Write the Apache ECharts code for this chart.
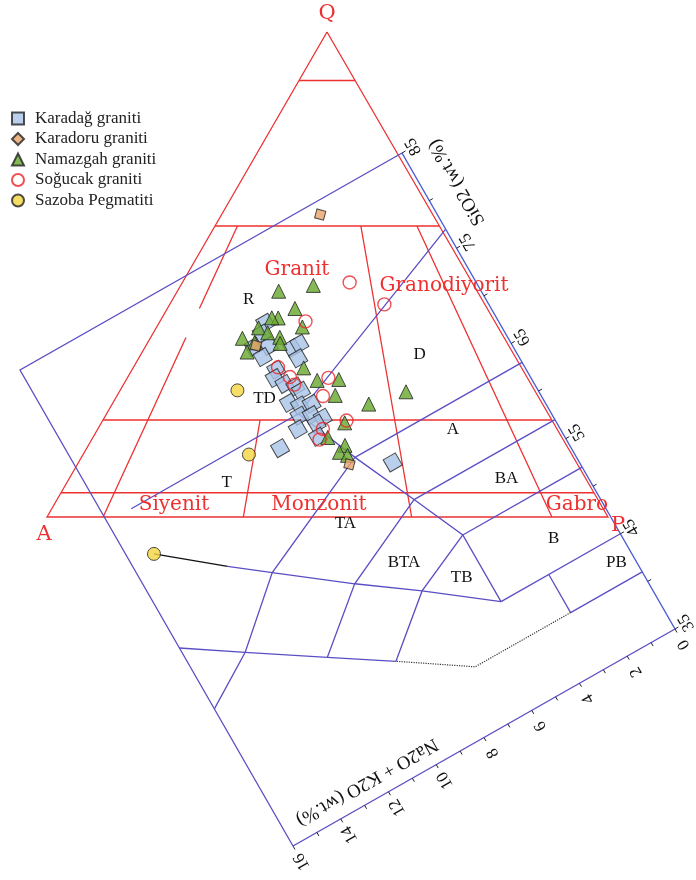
<!DOCTYPE html>
<html><head><meta charset="utf-8">
<script src="https://cdn.jsdelivr.net/npm/echarts@6/dist/echarts.min.js"></script>
<style>html,body{margin:0;padding:0;background:#fff}#c{width:696px;height:880px}</style>
</head><body><div id="c"></div>
<script>
// Whole-rock compositions: [SiO2 wt.%, Na2O+K2O wt.%]
const karadag = [[77.7,7.4],[77.0,7.7],[76.3,8.2],[75.7,7.7],[74.5,7.0],[74.5,6.7],[73.4,7.0],[75.1,8.1],[73.5,7.9],[72.9,8.1],[72.0,7.9],[71.3,7.6],[70.7,7.5],[70.3,8.1],[69.6,7.8],[69.2,7.4],[68.8,8.0],[68.3,7.6],[67.6,7.3],[67.8,8.3],[67.4,7.6],[66.3,7.8],[67.1,9.2],[60.9,5.9]];
const karadoru = [[83.8,3.7],[76.3,8.1],[62.7,7.3]];
const namazgah = [[79.6,6.4],[78.5,5.2],[77.5,6.2],[77.5,6.9],[77.8,7.1],[75.7,6.3],[77.6,7.7],[77.5,8.4],[76.8,7.5],[75.9,7.2],[76.6,8.1],[76.2,8.5],[75.4,7.3],[72.4,7.0],[70.8,6.8],[69.9,6.1],[68.8,6.5],[66.6,5.6],[65.9,4.2],[66.2,6.7],[65.8,7.5],[64.4,7.1],[64.1,7.4],[63.5,7.2]];
const sogucak = [[77.1,4.0],[73.8,3.3],[76.0,6.1],[73.6,7.8],[72.3,7.6],[71.5,7.6],[70.5,6.4],[69.3,6.9],[66.3,6.6],[66.7,7.5],[66.0,7.8]];
const sazoba = [[73.6,9.5],[68.0,10.3],[64.4,15.1]];

const seriesNames = ['Karadağ graniti','Karadoru graniti','Namazgah graniti','Soğucak graniti','Sazoba Pegmatiti'];

// TAS axes
const sio2Ticks = [35,45,55,65,75,85];
const sio2Minor = [35,40,45,50,55,60,65,70,75,80,85];
const alkTicks = [0,2,4,6,8,10,12,14,16];
const alkMinor = [0,1,2,3,4,5,6,7,8,9,10,11,12,13,14,15,16];

// TAS field boundaries [SiO2, Na2O+K2O]
const tasBoundaries = [
  [[41,0],[41,3]],
  [[41,3],[45,3]],
  [[45,0],[45,5]],
  [[45,5],[52,5],[57,5.9],[63,7],[69,8]],
  [[52,0],[52,5]],
  [[57,0],[57,5.9]],
  [[63,0],[63,7]],
  [[77,0],[69,8],[69,15]],
  [[45,5],[49.4,7.3],[53,9.3],[57.6,11.7],[60.1,13.0]],
  [[52,5],[49.4,7.3],[45,9.4]],
  [[57,5.9],[53,9.3],[48.4,11.5]],
  [[63,7],[57.6,11.7],[52.5,14],[49.4,16]],
  [[45,9.4],[48.4,11.5],[52.5,14],[55.8,16]]
];
const tasDotted = [[[41,3],[41,7],[45,9.4]]];
const tasBlack = [[[60.1,13.0],[64.4,15.1]]];
const tasLabels = [
  ['R',80.3,7.5],['TD',71.7,8.8],['T',66.8,11.5],['D',68.2,3.1],['A',60.8,3.4],
  ['BA',54.5,2.6],['B',47.6,2.2],['PB',42.9,0.65],['TA',58.2,8.5],['BTA',52.5,7.35],['TB',48.7,5.8]
];

// QAP diagram: horizontal Q levels and P/(A+P) ratio lines [ratio %, Q from, Q to]
const qapLevels = [90,60,20,5];
const qapRatioLines = [[10,60,43],[10,37,0],[35,20,0],[65,60,0],[90,60,0]];
const qapFieldLabels = [['Granit',297,270],['Granodiyorit',444,286],['Siyenit',174,505],['Monzonit',319,505],['Gabro',577,505]];

// ---- layout ----
const TAS_O = [675,629], TAS_S = [402,153], TAS_K = [293,846];
function tas(s,a){
  const fs=(s-35)/50, fa=a/16;
  return [TAS_O[0]+fs*(TAS_S[0]-TAS_O[0])+fa*(TAS_K[0]-TAS_O[0]),
          TAS_O[1]+fs*(TAS_S[1]-TAS_O[1])+fa*(TAS_K[1]-TAS_O[1])];
}
const QQ=[327,32], QA=[47,517], QP=[608,517];
function qap(q,p){
  const a=100-q-p;
  return [(QQ[0]*q+QA[0]*a+QP[0]*p)/100,(QQ[1]*q+QA[1]*a+QP[1]*p)/100];
}
const uLen = Math.hypot(TAS_S[0]-TAS_O[0],TAS_S[1]-TAS_O[1]);
const vLen = Math.hypot(TAS_K[0]-TAS_O[0],TAS_K[1]-TAS_O[1]);
const uHat = [(TAS_S[0]-TAS_O[0])/uLen,(TAS_S[1]-TAS_O[1])/uLen];
const vHat = [(TAS_K[0]-TAS_O[0])/vLen,(TAS_K[1]-TAS_O[1])/vLen];
const rotText = Math.atan2(-uHat[1],uHat[0]);          // text along +SiO2
const rotTitleY = Math.atan2(-vHat[1],vHat[0]);        // text along +alkali

const RED='#ee3030', BLUE='#5a4ec4';

// QAP lines
const qapLines = [
  [qap(100,0),qap(0,0),qap(0,100),qap(100,0)]
];
qapLevels.forEach(q=>qapLines.push([qap(q,0),qap(q,100-q)]));
qapRatioLines.forEach(([r,q1,q2])=>qapLines.push([qap(q1,(100-q1)*r/100),qap(q2,(100-q2)*r/100)]));

// TAS frame and ticks
const toPix = list => list.map(line=>line.map(([s,a])=>tas(s,a)));
const frame = [[tas(85,0),tas(85,16),tas(35,16)]];
const sio2Axis = [[tas(35,0),tas(85,0)]];
const alkAxis = [[tas(35,0),tas(35,16)]];
const ticks = [];
sio2Minor.forEach(s=>{const p=tas(s,0);ticks.push([p,[p[0]-vHat[0]*4,p[1]-vHat[1]*4]]);});
alkMinor.forEach(a=>{const p=tas(35,a);ticks.push([p,[p[0]-uHat[0]*4,p[1]-uHat[1]*4]]);});

function linesSeries(list,style,z){
  return {type:'lines',coordinateSystem:'cartesian2d',polyline:true,silent:true,z:z||2,
    lineStyle:Object.assign({opacity:1},style),data:list.map(c=>({coords:c}))};
}

const texts = [];
function txt(str,x,y,font,fill,rot){
  texts.push({type:'text',x:x,y:y,rotation:rot||0,silent:true,z:50,
    style:{text:str,font:font,fill:fill,textAlign:'center',textVerticalAlign:'middle',align:'center',verticalAlign:'middle'}});
}
const serif = 'Liberation Serif';
sio2Ticks.forEach(s=>{const p=tas(s,0);txt(String(s),p[0]-vHat[0]*13,p[1]-vHat[1]*13,'17px '+serif,'#111',rotText);});
alkTicks.forEach(a=>{const p=tas(35,a);txt(String(a),p[0]-uHat[0]*18,p[1]-uHat[1]*18,'17px '+serif,'#111',rotText);});
{const p=tas(80.2,0);txt('SiO2 (wt.%)',p[0]-vHat[0]*33,p[1]-vHat[1]*33,'19px '+serif,'#111',rotText);}
{const p=tas(35,12.5);txt('Na2O + K2O (wt.%)',p[0]+uHat[0]*19,p[1]+uHat[1]*19,'19px '+serif,'#111',rotTitleY);}
tasLabels.forEach(([t,s,a])=>{const p=tas(s,a);txt(t,p[0],p[1],'17px '+serif,'#111',0);});
const redFont = '20px DejaVu Serif';
txt('Q',QQ[0],QQ[1]-18,'21px DejaVu Serif',RED,0);
txt('A',QA[0]-3,QA[1]+18,'21px DejaVu Serif',RED,0);
txt('P',QP[0]+10,QP[1]+9,'21px DejaVu Serif',RED,0);
qapFieldLabels.forEach(([t,x,y])=>txt(t,x,y,redFont,RED,0));

function pts(arr){return arr.map(d=>tas(d[0],d[1]));}
const edge = {borderColor:'#222',borderWidth:1};

const chart = echarts.init(document.getElementById('c'),null,{renderer:'canvas'});
chart.setOption({
  animation:false,
  backgroundColor:'#fff',
  grid:{left:0,right:0,top:0,bottom:0},
  xAxis:{type:'value',min:0,max:696,show:false},
  yAxis:{type:'value',min:0,max:880,inverse:true,show:false},
  legend:{orient:'vertical',left:6,top:105,itemWidth:12,itemHeight:12,itemGap:3.5,symbolRotate:0,
    data:seriesNames,selectedMode:false,
    textStyle:{fontFamily:serif,fontSize:17,lineHeight:16,color:'#222',padding:[0,0,0,6]}},
  graphic:{elements:texts},
  series:[
    linesSeries(qapLines,{color:RED,width:1.3},2),
    linesSeries(frame,{color:BLUE,width:1.3},3),
    linesSeries(sio2Axis,{color:'#4a5ad6',width:1.4},3),
    linesSeries(alkAxis,{color:BLUE,width:1.4},3),
    linesSeries(ticks,{color:'#222',width:1},3),
    linesSeries(toPix(tasBoundaries),{color:BLUE,width:1.3},3),
    linesSeries(toPix(tasDotted),{color:'#333',width:1.2,type:'dotted'},3),
    linesSeries(toPix(tasBlack),{color:'#111',width:1.4},3),
    {name:seriesNames[0],type:'scatter',z:10,symbol:'rect',symbolSize:14,symbolRotate:30,
      itemStyle:Object.assign({color:'#a8c3e6'},edge),data:pts(karadag)},
    {name:seriesNames[2],type:'scatter',z:11,symbol:'triangle',symbolSize:14,
      itemStyle:Object.assign({color:'#66a82c'},edge),data:pts(namazgah)},
    {name:seriesNames[1],type:'scatter',z:12,symbol:'diamond',symbolSize:13,symbolRotate:120,
      itemStyle:Object.assign({color:'#e8a46c'},edge),data:pts(karadoru)},
    {name:seriesNames[3],type:'scatter',z:13,symbol:'circle',symbolSize:13,
      itemStyle:{color:'rgba(255,255,255,0)',borderColor:'#e8262a',borderWidth:1.4},data:pts(sogucak)},
    {name:seriesNames[4],type:'scatter',z:14,symbol:'circle',symbolSize:13,
      itemStyle:Object.assign({color:'#f2d540'},edge),data:pts(sazoba)}
  ]
});
</script></body></html>
